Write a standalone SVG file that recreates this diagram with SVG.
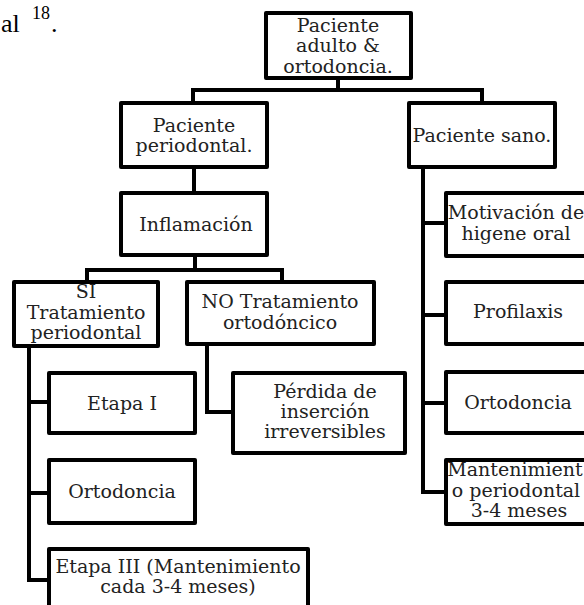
<svg xmlns="http://www.w3.org/2000/svg" width="584" height="605" viewBox="0 0 584 605">
<style>
.box{fill:#fff;stroke:#000;stroke-width:4;stroke-linejoin:round}
.t{font-family:"DejaVu Serif",serif;font-size:19px;fill:#222;text-anchor:middle}
.c{fill:none;stroke:#000;stroke-width:4;stroke-linejoin:miter}
.ref{font-family:"Liberation Serif",serif;fill:#000}
</style>
<rect width="584" height="605" fill="#fff"/>
<text class="ref" x="1" y="32" font-size="26">al</text>
<text class="ref" x="32" y="19" font-size="18">18</text>
<text class="ref" x="51" y="32" font-size="26">.</text>
<g id="connectors">
<path class="c" d="M338,78 V90 M193,103 V90 H482 V103"/>
<path class="c" d="M194,167 V193"/>
<path class="c" d="M195,255 V270 M87,282 V270 H282 V282"/>
<path class="c" d="M29,346 V580 H49 M29,402 H49 M29,493 H49"/>
<path class="c" d="M207,344 V412 H233"/>
<path class="c" d="M423,167 V492 H446 M423,223 H446 M423,315 H446 M423,403 H446"/>
</g>
<g id="n_top"><rect class="box" x="266" y="13" width="145" height="65"/>
<text class="t" x="338" y="32">Paciente</text><text class="t" x="338" y="52">adulto &amp;</text><text class="t" x="338" y="73">ortodoncia.</text></g>
<g id="n_perio"><rect class="box" x="121" y="103" width="146" height="64"/>
<text class="t" x="194" y="132">Paciente</text><text class="t" x="194" y="152">periodontal.</text></g>
<g id="n_sano"><rect class="box" x="409" y="103" width="146" height="64"/>
<text class="t" x="482" y="142">Paciente sano.</text></g>
<g id="n_infl"><rect class="box" x="121" y="193" width="146" height="62"/>
<text class="t" x="196" y="231">Inflamación</text></g>
<g id="n_si"><rect class="box" x="14" y="282" width="144" height="64"/>
<text class="t" x="86" y="298">SI</text><text class="t" x="86" y="319">Tratamiento</text><text class="t" x="86" y="339">periodontal</text></g>
<g id="n_no"><rect class="box" x="187" y="282" width="187" height="62"/>
<text class="t" x="280" y="308">NO Tratamiento</text><text class="t" x="280" y="329">ortodóncico</text></g>
<g id="n_perdida"><rect class="box" x="233" y="373" width="172" height="80"/>
<text class="t" x="325" y="398">Pérdida de</text><text class="t" x="325" y="418">inserción</text><text class="t" x="325" y="438">irreversibles</text></g>
<g id="n_etapa1"><rect class="box" x="49" y="373" width="146" height="60"/>
<text class="t" x="122" y="410">Etapa I</text></g>
<g id="n_orto1"><rect class="box" x="49" y="460" width="146" height="63"/>
<text class="t" x="122" y="498">Ortodoncia</text></g>
<g id="n_etapa3"><rect class="box" x="49" y="549" width="259" height="70"/>
<text class="t" x="178" y="573">Etapa III (Mantenimiento</text><text class="t" x="178" y="593">cada 3-4 meses)</text></g>
<g id="n_motiv"><rect class="box" x="446" y="193" width="150" height="63"/>
<text class="t" x="516" y="219">Motivación de</text><text class="t" x="516" y="240">higene oral</text></g>
<g id="n_profi"><rect class="box" x="446" y="282" width="150" height="62"/>
<text class="t" x="518" y="318">Profilaxis</text></g>
<g id="n_orto2"><rect class="box" x="446" y="372" width="150" height="61"/>
<text class="t" x="518" y="409">Ortodoncia</text></g>
<g id="n_mant"><rect class="box" x="446" y="460" width="150" height="64"/>
<text class="t" x="515" y="476">Mantenimient</text><text class="t" x="516" y="497">o periodontal</text><text class="t" x="519" y="517">3-4 meses</text></g>
</svg>
